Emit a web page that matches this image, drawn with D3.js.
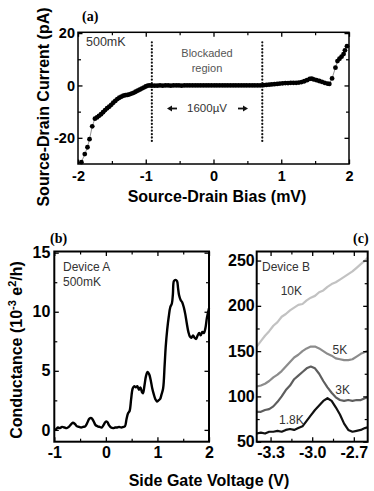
<!DOCTYPE html>
<head>
    <meta charset="utf-8">
    <style>
        body { margin: 0; background: #fff; }
        svg { display: block; }
        .tick-lbl text { font-family: "Liberation Sans", Arial, sans-serif; font-weight: bold; fill: #000; }
        .ttl { font-family: "Liberation Sans", Arial, sans-serif; font-weight: bold; font-size: 16px; fill: #000; }
        .note { font-family: "Liberation Sans", Arial, sans-serif; fill: #333; }
        .tag { font-family: "Liberation Serif", "Times New Roman", serif; font-weight: bold; font-size: 14px; fill: #000; }
        .frame { fill: none; stroke: #000; }
    </style>
</head>

<body>
    <script src="https://d3js.org/d3.v7.min.js"></script>

    <script>
        // ---- panel (a): I-V curve, 500mK ----
        var biasMV = [-1.95, -1.90, -1.86, -1.83, -1.79, -1.75,
            -1.72, -1.69, -1.66, -1.63, -1.60, -1.57, -1.54, -1.51, -1.48, -1.45, -1.42, -1.39, -1.36, -1.33,
            -1.30, -1.27, -1.24, -1.21, -1.18, -1.15, -1.12, -1.09, -1.06, -1.03, -1.00, -0.97, -0.94, -0.91,
            -0.87, -0.83, -0.79, -0.75, -0.71, -0.67, -0.63, -0.59, -0.55, -0.51, -0.47, -0.43, -0.39, -0.35,
            -0.31, -0.27, -0.23, -0.19, -0.15, -0.11, -0.07, -0.03, 0.01, 0.05, 0.09, 0.13, 0.17, 0.21, 0.25,
            0.29, 0.33, 0.37, 0.41, 0.45, 0.49, 0.53, 0.57, 0.61, 0.65, 0.69,
            0.74, 0.78, 0.82, 0.86, 0.90, 0.94, 0.98, 1.02, 1.06, 1.10, 1.14, 1.18, 1.22, 1.26, 1.30, 1.34,
            1.38, 1.42, 1.45, 1.48, 1.52, 1.56, 1.60, 1.64, 1.68, 1.71,
            1.75, 1.80, 1.83, 1.86, 1.89, 1.92, 1.94, 1.97];
        var currentPA = [-29.3, -26.2, -23.6, -20.5, -15.6, -12.7,
            -12.2, -11.6, -11.0, -10.2, -9.4, -8.7, -8.1, -7.4, -6.6, -5.9, -5.2, -4.7, -4.3, -3.9,
            -3.7, -3.6, -3.4, -3.1, -2.8, -2.4, -2.0, -1.6, -1.2, -0.8, -0.4, -0.1, 0.0, -0.1,
            -0.1, -0.1, 0.0, -0.1, 0.0, 0.0, -0.1, 0.0, 0.0, 0.0, -0.1, 0.0, 0.0, 0.0,
            0.0, 0.0, 0.0, 0.0, 0.0, 0.0, 0.0, 0.0, 0.0, 0.0, 0.0, 0.0, 0.0, 0.0, 0.0,
            0.0, 0.0, 0.0, 0.0, 0.0, 0.0, 0.0, 0.0, 0.0, 0.0, 0.0,
            0.1, 0.2, 0.3, 0.4, 0.5, 0.6, 0.7, 0.8, 0.9, 0.9, 1.0, 1.0, 1.0, 1.1, 1.3, 1.6,
            2.0, 2.5, 2.6, 2.3, 2.0, 1.7, 1.4, 1.0, 0.7, 0.6,
            2.7, 6.8, 9.3, 10.2, 11.0, 12.0, 13.4, 15.0];
        var blockadeEdges = [-0.91, 0.72];
        var aTicksX = [-2, -1, 0, 1, 2];
        var aMinorX = [-1.5, -0.5, 0.5, 1.5];
        var aTicksY = [-20, 0, 20];
        var aMinorY = [-10, 10];

        // ---- panel (b): Device A, 500mK ----
        var gateA = [-1.00, -0.97, -0.93, -0.89, -0.85, -0.80, -0.76, -0.72, -0.68, -0.64, -0.60, -0.56,
            -0.52, -0.48, -0.44, -0.40, -0.36, -0.32, -0.28, -0.24, -0.20, -0.16, -0.12, -0.08, -0.04,
            0.00, 0.03, 0.06, 0.10, 0.14, 0.18, 0.22, 0.26, 0.30, 0.34, 0.37, 0.40, 0.43, 0.46, 0.49,
            0.52, 0.55, 0.58, 0.61, 0.64, 0.67, 0.70, 0.72, 0.75, 0.78, 0.81, 0.84, 0.87, 0.90, 0.93,
            0.96, 0.99, 1.02, 1.05, 1.08, 1.11, 1.14, 1.16, 1.19, 1.22, 1.25, 1.28, 1.30, 1.32, 1.35,
            1.38, 1.40, 1.42, 1.45, 1.48, 1.51, 1.54, 1.57, 1.60, 1.63, 1.66, 1.69, 1.72, 1.75, 1.78,
            1.81, 1.84, 1.87, 1.90, 1.93, 1.96, 2.00];
        var condA = [0.0, 0.05, 0.2, 0.15, 0.25, 0.2, 0.15, 0.25, 0.45, 0.6, 0.5, 0.3,
            0.25, 0.2, 0.25, 0.3, 0.6, 0.95, 1.0, 0.75, 0.4, 0.3, 0.25, 0.2, 0.45,
            0.7, 0.65, 0.4, 0.2, 0.15, 0.2, 0.2, 0.25, 0.2, 0.25, 0.3, 0.9, 1.4, 1.6, 2.6,
            3.5, 3.7, 3.6, 3.7, 3.4, 3.6, 3.2, 3.1, 3.8, 4.6, 4.9, 4.7, 4.2, 3.5, 3.0,
            2.6, 2.4, 2.5, 2.6, 3.0, 3.5, 5.5, 7.0, 8.5, 9.6, 10.4, 10.7, 11.5, 12.6, 12.7,
            12.6, 12.0, 11.4, 11.0, 10.8, 10.4, 9.8, 9.0, 8.3, 7.9, 7.8, 8.0, 7.8, 7.7, 8.0,
            8.2, 8.0, 8.3, 8.2, 8.6, 9.5, 10.3];
        var bTicksX = [-1, 0, 1, 2];
        var bMinorX = [-0.5, 0.5, 1.5];
        var bTicksY = [0, 5, 10, 15];
        var bMinorY = [2.5, 7.5, 12.5];

        // ---- panel (c): Device B, four temperatures ----
        var gateB = [-3.40, -3.37, -3.34, -3.31, -3.28, -3.25, -3.22, -3.19, -3.16, -3.13, -3.10,
            -3.07, -3.04, -3.01, -2.98, -2.95, -2.92, -2.89, -2.86, -2.83, -2.80, -2.77, -2.74,
            -2.71, -2.68, -2.65, -2.62, -2.60];
        var cond10K = [155, 161, 167, 172, 178, 182, 188, 191, 195, 198, 201, 202, 206, 209, 211,
            215, 217, 221, 224, 226, 229, 232, 235, 238, 242, 246, 250, 253];
        var cond5K  = [111, 112, 114, 117, 121, 124, 128, 133, 138, 143, 146, 150, 153, 155, 155,
            153, 150, 147, 145, 142, 141, 140, 140, 141, 144, 147, 149, 150];
        var cond3K  = [83, 83, 85, 86, 89, 94, 100, 107, 112, 119, 123, 127, 131, 133, 131,
            125, 117, 110, 104, 99, 96, 95, 96, 95, 96, 96, 98, 99];
        var cond18K = [59, 60, 59, 61, 61, 62, 61, 63, 64, 63, 65, 67, 73, 79, 85,
            90, 95, 98, 95, 88, 80, 70, 63, 61, 62, 63, 65, 66];
        var tempLabels = ["10K", "5K", "3K", "1.8K"];
        var cTicksX = [-3.3, -3.0, -2.7];
        var cMinorX = [-3.15, -2.85];
        var cTicksY = [50, 100, 150, 200, 250];
        var cMinorY = [75, 125, 175, 225];

        var svg = d3.select("body").append("svg")
            .attr("width", 374)
            .attr("height", 491);

        svg.append("rect").attr("width", 374).attr("height", 491).attr("fill", "#fff");

        // inward ticks on all four sides of a panel, labels only on bottom/left
        function drawFrame(g, x, y, o) {
            var w = x.range()[1] - x.range()[0];
            var h = y.range()[0] - y.range()[1];
            var sides = [
                [d3.axisBottom(x), "translate(0," + h + ")", o.xMajor, o.xMinor, o.fmtX],
                [d3.axisTop(x), "translate(0,0)", o.xMajor, o.xMinor, ""],
                [d3.axisLeft(y), "translate(0,0)", o.yMajor, o.yMinor, o.fmtY],
                [d3.axisRight(y), "translate(" + w + ",0)", o.yMajor, o.yMinor, ""]
            ];
            sides.forEach(function(s, i) {
                var ax = s[0].tickValues(s[2]).tickSizeInner(-4.5).tickSizeOuter(0)
                    .tickPadding(i < 2 ? o.padX : o.padY)
                    .tickFormat(s[4]);
                var ag = g.append("g").attr("class", "tick-lbl").attr("transform", s[1]).call(ax);
                ag.select(".domain").remove();
                ag.selectAll("line").attr("stroke", "#000").attr("stroke-width", 1.3);
                ag.selectAll("text").style("font-size", o.fs + "px");
                var mg = g.append("g").attr("transform", s[1])
                    .call(d3[["axisBottom", "axisTop", "axisLeft", "axisRight"][i]](i < 2 ? x : y)
                        .tickValues(s[3]).tickSizeInner(-3).tickSizeOuter(0).tickFormat(""));
                mg.select(".domain").remove();
                mg.selectAll("line").attr("stroke", "#000").attr("stroke-width", 1.2);
            });
            g.append("rect").attr("class", "frame")
                .attr("width", w).attr("height", h)
                .attr("stroke-width", o.sw);
        }

        var fmtInt = function(d) { return String(d); };

        //==== panel (a) ====
        var ga = svg.append("g").attr("transform", "translate(78,32.3)");
        var xa = d3.scaleLinear().domain([-2, 2]).range([0, 271]);
        var ya = d3.scaleLinear().domain([-30, 20.3]).range([131.7, 0]);
        var dataA = biasMV.map(function(v, i) { return {x: v, y: currentPA[i]}; });

        // dotted lines marking the blockade
        ga.selectAll(".edge").data(blockadeEdges).enter().append("line")
            .attr("x1", function(d) { return xa(d); })
            .attr("x2", function(d) { return xa(d); })
            .attr("y1", ya(16.5)).attr("y2", ya(-21.5))
            .attr("stroke", "#111").attr("stroke-width", 2.2)
            .attr("stroke-linecap", "round")
            .attr("stroke-dasharray", "0.1,3.3");

        ga.append("path").datum(dataA)
            .attr("fill", "none").attr("stroke", "#777").attr("stroke-width", 0.8)
            .attr("d", d3.line().x(function(d) { return xa(d.x); }).y(function(d) { return ya(d.y); }));

        ga.selectAll(".pt").data(dataA).enter().append("circle")
            .attr("cx", function(d) { return xa(d.x); })
            .attr("cy", function(d) { return ya(d.y); })
            .attr("r", 2.4)
            .attr("fill", "#000");

        drawFrame(ga, xa, ya, {xMajor: aTicksX, xMinor: aMinorX, yMajor: aTicksY, yMinor: aMinorY,
            fmtX: fmtInt, fmtY: fmtInt, fs: 14.5, padX: 7, padY: 3, sw: 1.5});

        svg.append("text").attr("class", "tag").attr("x", 82).attr("y", 21).text("(a)");
        svg.append("text").attr("class", "note").attr("x", 86).attr("y", 46)
            .style("font-size", "12.5px").text("500mK");
        svg.append("text").attr("class", "note").attr("x", 207).attr("y", 57)
            .attr("text-anchor", "middle").style("font-size", "11px").style("fill", "#555").text("Blockaded");
        svg.append("text").attr("class", "note").attr("x", 207).attr("y", 72)
            .attr("text-anchor", "middle").style("font-size", "11px").style("fill", "#555").text("region");
        svg.append("text").attr("class", "note").attr("x", 207).attr("y", 112)
            .attr("text-anchor", "middle").style("font-size", "11.5px").text("1600\u00b5V");

        // the two little arrows either side of the width label
        var arrowLen = 10;
        [[177, -1], [238, 1]].forEach(function(a) {
            var x0 = a[0], dir = a[1], tip = x0 + dir * arrowLen;
            svg.append("line").attr("x1", x0).attr("x2", tip - dir * 3)
                .attr("y1", 108.5).attr("y2", 108.5)
                .attr("stroke", "#111").attr("stroke-width", 1.8);
            svg.append("path")
                .attr("d", "M" + tip + ",108.5 L" + (tip - dir * 5) + ",105.5 L" + (tip - dir * 5) + ",111.5 Z")
                .attr("fill", "#111");
        });

        svg.append("text").attr("class", "ttl")
            .attr("x", 217).attr("y", 202)
            .attr("text-anchor", "middle")
            .text("Source-Drain Bias (mV)");
        svg.append("text").attr("class", "ttl")
            .attr("transform", "translate(49,107) rotate(-90)")
            .attr("text-anchor", "middle")
            .text("Source-Drain Current (pA)");

        //==== panel (b) ====
        var gb = svg.append("g").attr("transform", "translate(54.3,251.5)");
        var xb = d3.scaleLinear().domain([-1, 2]).range([0, 154.7]);
        var yb = d3.scaleLinear().domain([-1, 15.1]).range([190.2, 0]);

        gb.append("path").datum(gateA.map(function(v, i) { return [v, condA[i]]; }))
            .attr("fill", "none").attr("stroke", "#000").attr("stroke-width", 2.4)
            .attr("stroke-linejoin", "round")
            .attr("d", d3.line().curve(d3.curveCatmullRom)
                .x(function(d) { return xb(d[0]); }).y(function(d) { return yb(d[1]); }));

        drawFrame(gb, xb, yb, {xMajor: bTicksX, xMinor: bMinorX, yMajor: bTicksY, yMinor: bMinorY,
            fmtX: fmtInt, fmtY: fmtInt, fs: 16, padX: 5, padY: 4, sw: 2});

        svg.append("text").attr("class", "tag").attr("x", 50).attr("y", 243).text("(b)");
        svg.append("text").attr("class", "note").attr("x", 63).attr("y", 271)
            .style("font-size", "12px").text("Device A");
        svg.append("text").attr("class", "note").attr("x", 63).attr("y", 286)
            .style("font-size", "12px").text("500mK");

        //==== panel (c) ====
        var gc = svg.append("g").attr("transform", "translate(256.7,251.5)");
        var xc = d3.scaleLinear().domain([-3.4, -2.6]).range([0, 111]);
        var yc = d3.scaleLinear().domain([50, 260]).range([190.2, 0]);
        var seriesC = [
            {label: tempLabels[0], values: cond10K, color: "#c2c2c2", lx: -3.15, ly: 212},
            {label: tempLabels[1], values: cond5K, color: "#8c8c8c", lx: -2.80, ly: 147},
            {label: tempLabels[2], values: cond3K, color: "#5e5e5e", lx: -2.78, ly: 103},
            {label: tempLabels[3], values: cond18K, color: "#111", lx: -3.15, ly: 70}
        ];

        seriesC.forEach(function(s) {
            gc.append("path").datum(gateB.map(function(v, i) { return [v, s.values[i]]; }))
                .attr("fill", "none").attr("stroke", s.color).attr("stroke-width", 2.2)
                .attr("stroke-linejoin", "round")
                .attr("d", d3.line()
                    .x(function(d) { return xc(d[0]); }).y(function(d) { return yc(d[1]); }));
            gc.append("text").attr("class", "note")
                .attr("x", xc(s.lx)).attr("y", yc(s.ly))
                .attr("text-anchor", "middle")
                .style("font-size", "12px")
                .text(s.label);
        });

        drawFrame(gc, xc, yc, {xMajor: cTicksX, xMinor: cMinorX, yMajor: cTicksY, yMinor: cMinorY,
            fmtX: function(d) { return d.toFixed(1); }, fmtY: fmtInt, fs: 16, padX: 5, padY: 2, sw: 2});

        svg.append("text").attr("class", "tag").attr("x", 353).attr("y", 243).text("(c)");
        svg.append("text").attr("class", "note").attr("x", 262).attr("y", 271)
            .style("font-size", "12px").text("Device B");

        // shared titles for (b) and (c)
        svg.append("text").attr("class", "ttl")
            .attr("x", 209).attr("y", 486)
            .attr("text-anchor", "middle")
            .text("Side Gate Voltage (V)");
        var yt = svg.append("text").attr("class", "ttl")
            .attr("transform", "translate(22,350) rotate(-90)")
            .attr("text-anchor", "middle");
        yt.append("tspan").text("Conductance (10");
        yt.append("tspan").attr("dy", -6).style("font-size", "11px").text("-3");
        yt.append("tspan").attr("dy", 6).text(" e");
        yt.append("tspan").attr("dy", -6).style("font-size", "11px").text("2");
        yt.append("tspan").attr("dy", 6).text("/h)");
    </script>
</body>
